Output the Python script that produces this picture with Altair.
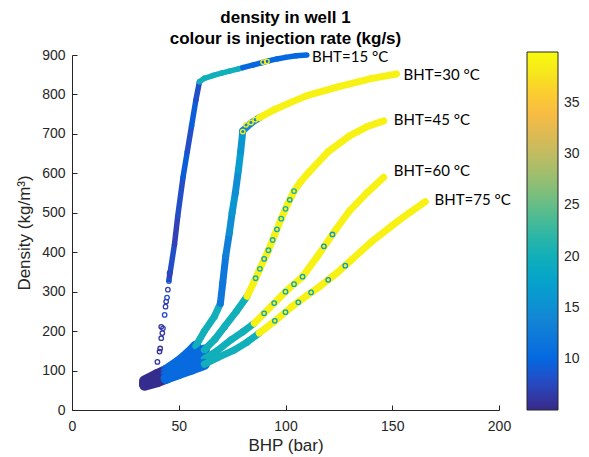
import altair as alt
import pandas as pd

# ---------------- data ----------------
# curve BHT=15 (band part)
bhp15 = [45.4, 46, 48, 49.5, 52, 54, 56, 58, 59.7, 62, 66, 70, 73.7, 78, 80, 85, 89.2, 92, 96, 100, 105, 110]
den15 = [330, 350, 420, 490, 590, 655, 720, 785, 832, 841, 848, 854, 859, 865, 868, 875, 881, 885, 890, 894, 898, 900]
rate15 = [7, 8, 7, 8, 9, 8, 9, 8, 20, 20, 20, 20, 20, 20, 10, 10, 10, 10, 10, 10, 10, 10]

bhp30 = [34, 40, 44, 50, 55, 58, 62, 66.7, 69.5, 70.6, 72, 73.7, 75, 76.5, 78, 79, 80, 84, 88, 95, 101.7, 110, 125, 140, 152]
den30 = [74, 90, 100, 122, 145, 162, 200, 237, 270, 322, 390, 449, 500, 550, 610, 655, 708, 728, 742, 762, 778, 797, 820, 840, 852]
rate30 = [5.3, 5.3, 10.3, 10.3, 10.3, 20, 20, 20, 12, 12, 13, 15, 16, 15, 17, 16, 14, 14, 39, 39, 39, 39, 39, 39, 39]

bhp45 = [34, 40, 44, 50, 56, 62, 67, 71.4, 77, 82, 85, 88, 92, 95, 98, 101, 104, 107, 111, 120, 130, 138, 146]
den45 = [70, 84, 95, 112, 132, 152, 180, 211, 250, 288, 322, 358, 405, 445, 485, 522, 555, 578, 603, 655, 695, 718, 733]
rate45 = [5.3, 5.3, 10.3, 10.3, 10.3, 20, 20, 20, 20, 39, 39, 39, 39, 39, 39, 39, 39, 39, 39, 39, 39, 39, 39]

bhp60 = [34, 40, 44, 50, 56, 62, 68, 74.5, 80, 85.4, 90, 94.7, 100, 108, 115, 123.5, 130, 138, 146]
den60 = [66, 78, 88, 102, 116, 130, 150, 178, 198, 220, 245, 271, 300, 338, 390, 457, 505, 550, 590]
rate60 = [5.3, 5.3, 10.3, 10.3, 10.3, 20, 20, 20, 20, 39, 39, 39, 39, 39, 39, 39, 39, 39, 39]

bhp75 = [34, 40, 44, 50, 56, 62, 68, 76, 82, 87.7, 94.7, 103, 110, 116, 124, 131, 140, 150, 158, 165.5]
den75 = [63, 72, 80, 92, 104, 116, 132, 152, 172, 195, 224, 262, 290, 313, 347, 381, 425, 468, 500, 528]
rate75 = [5.3, 5.3, 10.3, 10.3, 10.3, 20, 20, 20, 20, 39, 39, 39, 39, 39, 39, 39, 39, 39, 39, 39]

# individual open circles visible in the picture
ring_bhp = [40.0, 41.0, 41.3, 41.8, 42.3, 42.6, 41.8, 43.4, 43.8, 44.1, 44.5, 44.9, 45.4, 45.7,
            89.5, 91.3,
            80, 81.5, 83.8, 85.8, 87.4,
            86, 88, 90, 92, 94, 96, 98, 100, 102, 104,
            90, 94.7, 100, 104, 108, 118, 122,
            95, 100, 106, 112, 120, 128]
ring_den = [122, 148, 156, 182, 195, 207, 211, 241, 262, 275, 285, 305, 327, 347,
            882, 884,
            706, 723, 729, 736, 740,
            334, 358, 383, 405, 431, 458, 485, 510, 533, 555,
            245, 271, 300, 319, 338, 415, 445,
            226, 248, 273, 298, 330, 366]
ring_rate = [6, 5.5, 6, 6.5, 6, 7, 6, 8, 7, 6.5, 8, 7, 9, 7,
             39, 39,
             39, 39, 39, 39, 39,
             20, 20, 18, 20, 20, 18, 20, 20, 18, 20,
             18, 18, 18, 18, 18, 16, 16,
             18, 18, 18, 18, 16, 16]

lab_text = ["BHT=15 °C", "BHT=30 °C", "BHT=45 °C", "BHT=60 °C", "BHT=75 °C"]
lab_bhp = [112.4, 155.3, 150.7, 150.7, 169.8]
lab_den = [896, 850, 734, 605, 533]

x_ticks = [0, 50, 100, 150, 200]
y_ticks = [0, 100, 200, 300, 400, 500, 600, 700, 800, 900]
c_ticks = [10, 15, 20, 25, 30, 35]

# parula colour map stops (every 4th of 64)
parula = ["#352a87", "#3243ba", "#0363e1", "#0d75dc", "#1485d4", "#0998d1", "#06a7c6",
          "#15b1b4", "#38b99e", "#65be86", "#92bf73", "#b7bd64", "#d9ba56", "#f8bb44",
          "#fcce2e", "#f5eb18", "#f9fb0e"]
idx = [0, 4, 8, 12, 16, 20, 24, 28, 32, 36, 40, 44, 48, 52, 56, 60, 63]
cdomain = [5 + 35 * i / 63 for i in idx]

# ---------------- build tables ----------------
seg_rows = []
curves = [(bhp15, den15, rate15, 5.5, False), (bhp30, den30, rate30, 7, True),
          (bhp45, den45, rate45, 7, True), (bhp60, den60, rate60, 7, True),
          (bhp75, den75, rate75, 7, True)]
order = 0
for bx, dy, rt, w, fan in curves:
    for i in range(len(bx) - 1):
        ww = w
        if fan and rt[i] < 11:
            ww = 11
        seg_rows.append(dict(x=bx[i], y=dy[i], x2=bx[i + 1], y2=dy[i + 1], rate=rt[i], w=ww, o=order))
        order += 1
segs = pd.DataFrame(seg_rows)
rings = pd.DataFrame(dict(x=ring_bhp, y=ring_den, rate=ring_rate))
labels = pd.DataFrame(dict(x=lab_bhp, y=lab_den, t=lab_text))

W, H = 427, 355
FONT = "Liberation Sans"
INK = "#262626"

xscale = alt.Scale(domain=[0, 200], nice=False)
yscale = alt.Scale(domain=[0, 900], nice=False)
cscale = alt.Scale(domain=cdomain, range=parula, interpolate="rgb")

xaxis = alt.Axis(values=x_ticks, title="BHP (bar)", ticks=False, labelPadding=9,
                 titlePadding=4, grid=False, labelFlush=False)
yaxis = alt.Axis(values=y_ticks, title="Density (kg/m³)", ticks=False,
                 labelPadding=7, titlePadding=8, grid=False, labelFlush=False)

band = alt.Chart(segs).mark_rule(strokeCap="round").encode(
    x=alt.X("x:Q", scale=xscale, axis=xaxis),
    y=alt.Y("y:Q", scale=yscale, axis=yaxis),
    x2="x2:Q",
    y2="y2:Q",
    strokeWidth=alt.StrokeWidth("w:Q", scale=None, legend=None),
    color=alt.Color("rate:Q", scale=cscale,
                    legend=alt.Legend(orient="none", legendX=455, legendY=-3, direction="vertical",
                                      gradientLength=358, gradientThickness=31, title=None,
                                      values=c_ticks, labelFontSize=14,
                                      labelFont=FONT, labelColor=INK, gradientStrokeColor=INK,
                                      gradientStrokeWidth=1, labelOffset=6)),
    order="o:Q",
)

ring = alt.Chart(rings).mark_point(shape="circle", filled=False, size=20, strokeWidth=1.3, opacity=1).encode(
    x=alt.X("x:Q", scale=xscale, axis=None),
    y=alt.Y("y:Q", scale=yscale, axis=None),
    color=alt.Color("rate:Q", scale=cscale, legend=None),
)

text = alt.Chart(labels).mark_text(align="left", baseline="middle", font="Lato", fontSize=15,
                                   color="black").encode(
    x=alt.X("x:Q", scale=xscale,
            axis=alt.Axis(orient="top", offset=-H, labels=False, domain=False, ticks=True,
                          tickSize=5, values=x_ticks, title=None, grid=False)),
    y=alt.Y("y:Q", scale=yscale,
            axis=alt.Axis(orient="right", offset=-W, labels=False, domain=False, ticks=True,
                          tickSize=5, values=y_ticks, title=None, grid=False)),
    text="t:N",
)

chart = alt.layer(band, ring, text).resolve_axis(x="independent", y="independent").properties(
    width=W, height=H,
    title=alt.TitleParams(["density in well 1", "colour is injection rate (kg/s)"], fontSize=17,
                          font=FONT, fontWeight="bold", anchor="middle", offset=0, lineHeight=21,
                          color="black"),
    autosize=alt.AutoSizeParams(type="none"),
    padding={"left": 72, "top": 55, "right": 90, "bottom": 47},
    background="white",
).configure_view(stroke=None).configure_axis(
    labelFont=FONT, labelFontSize=14, labelColor=INK, titleFont=FONT, titleFontSize=17,
    titleFontWeight="normal", titleColor=INK, domainColor=INK, tickColor=INK, domainWidth=1,
)

chart.save("out.html", embed_options={"renderer": "svg", "actions": False})
